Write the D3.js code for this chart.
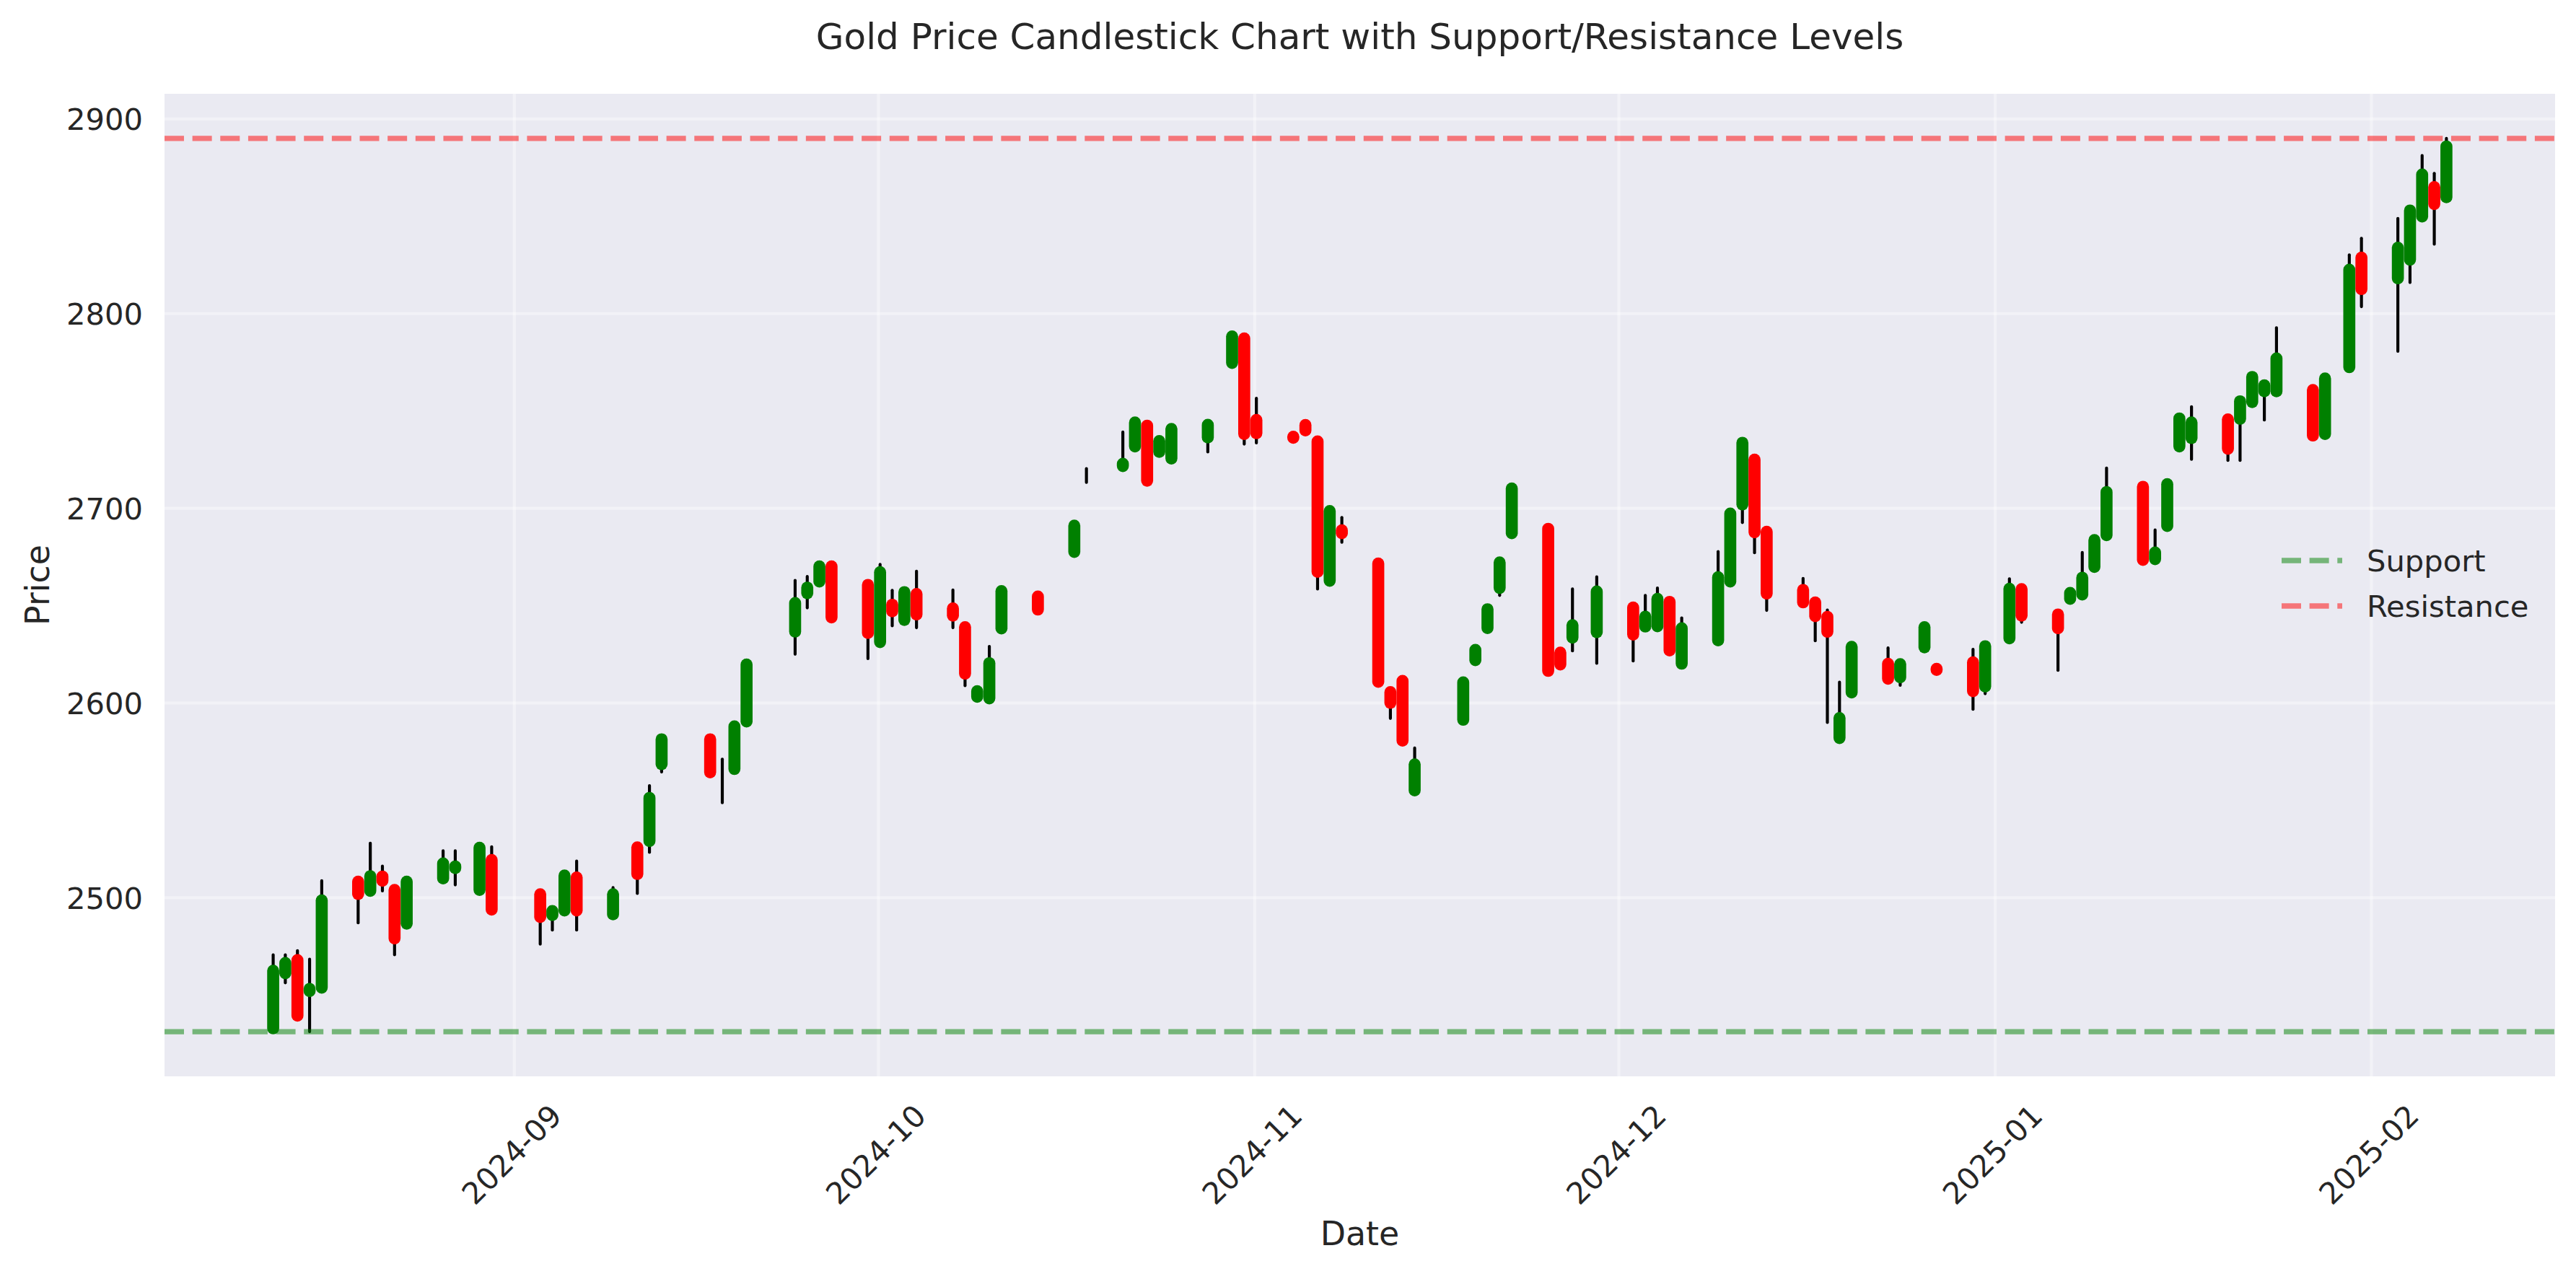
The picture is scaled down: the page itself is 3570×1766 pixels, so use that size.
<!DOCTYPE html>
<html>
<head>
<meta charset="utf-8">
<script src="https://cdn.jsdelivr.net/npm/d3@7"></script>
<style>
  html, body { margin: 0; padding: 0; background: #ffffff; }
  svg { display: block; }
  text { font-family: "DejaVu Sans", sans-serif; fill: #262626; }
</style>
</head>
<body>
<svg id="chart" width="3570" height="1766"></svg>
<script>
// ---------------- DATA ----------------
const dates = [
  "2024-08-12","2024-08-13","2024-08-14","2024-08-15","2024-08-16",
  "2024-08-19","2024-08-20","2024-08-21","2024-08-22","2024-08-23",
  "2024-08-26","2024-08-27","2024-08-29","2024-08-30",
  "2024-09-03","2024-09-04","2024-09-05","2024-09-06",
  "2024-09-09","2024-09-11","2024-09-12","2024-09-13",
  "2024-09-17","2024-09-18","2024-09-19","2024-09-20",
  "2024-09-24","2024-09-25","2024-09-26","2024-09-27",
  "2024-09-30","2024-10-01","2024-10-02","2024-10-03","2024-10-04",
  "2024-10-07","2024-10-08","2024-10-09","2024-10-10","2024-10-11",
  "2024-10-14","2024-10-17","2024-10-18",
  "2024-10-21","2024-10-22","2024-10-23","2024-10-24","2024-10-25",
  "2024-10-28","2024-10-30","2024-10-31","2024-11-01",
  "2024-11-04","2024-11-05","2024-11-06","2024-11-07","2024-11-08",
  "2024-11-11","2024-11-12","2024-11-13","2024-11-14",
  "2024-11-18","2024-11-19","2024-11-20","2024-11-21","2024-11-22",
  "2024-11-25","2024-11-26","2024-11-27","2024-11-29",
  "2024-12-02","2024-12-03","2024-12-04","2024-12-05","2024-12-06",
  "2024-12-09","2024-12-10","2024-12-11","2024-12-12","2024-12-13",
  "2024-12-16","2024-12-17","2024-12-18","2024-12-19","2024-12-20",
  "2024-12-23","2024-12-24","2024-12-26","2024-12-27",
  "2024-12-30","2024-12-31","2025-01-02","2025-01-03",
  "2025-01-06","2025-01-07","2025-01-08","2025-01-09","2025-01-10",
  "2025-01-13","2025-01-14","2025-01-15","2025-01-16","2025-01-17",
  "2025-01-20","2025-01-21","2025-01-22","2025-01-23","2025-01-24",
  "2025-01-27","2025-01-28","2025-01-30","2025-01-31",
  "2025-02-03","2025-02-04","2025-02-05","2025-02-06","2025-02-07"
];
const opens = [
  2432.7,2461.0,2467.8,2451.8,2453.6,
  2508.1,2503.3,2510.7,2503.8,2486.5,
  2509.7,2515.0,2503.8,2519.2,
  2501.6,2490.9,2493.2,2510.2,
  2491.3,2525.7,2528.9,2568.4,
  2581.2,2560.0,2565.9,2590.3,
  2636.5,2656.2,2662.2,2670.0,
  2660.5,2631.1,2650.3,2642.5,2655.8,
  2648.4,2638.8,2603.0,2602.2,2638.1,
  2654.5,2677.4,2716.6,
  2721.5,2731.6,2742.3,2728.8,2725.4,
  2736.2,2774.5,2787.1,2745.2,
  2736.6,2742.6,2734.2,2662.6,2688.5,
  2671.5,2605.4,2611.2,2554.9,
  2591.2,2621.8,2638.3,2658.9,2687.0,
  2689.3,2625.7,2633.4,2636.2,
  2648.9,2639.1,2639.2,2651.8,2620.0,
  2632.0,2662.2,2701.8,2724.8,2687.8,
  2657.9,2651.5,2644.1,2581.8,2605.2,
  2620.0,2613.0,2628.4,2617.4,
  2620.7,2608.3,2633.0,2658.3,
  2645.3,2653.3,2655.5,2669.7,2686.0,
  2710.9,2673.7,2690.7,2731.6,2735.9,
  2745.5,2745.8,2754.4,2759.9,2759.9,
  2760.6,2738.0,2772.3,2828.6,
  2817.9,2827.5,2849.7,2864.8,2859.6
];
const highs = [
  2470.5,2470.5,2472.6,2468.2,2508.5,
  2508.5,2527.8,2516.0,2504.0,2508.3,
  2523.9,2523.9,2525.8,2526.0,
  2502.0,2493.3,2511.4,2518.6,
  2505.0,2526.0,2557.4,2581.5,
  2581.5,2571.0,2588.0,2619.8,
  2662.8,2664.8,2670.2,2670.2,
  2660.8,2671.0,2657.7,2657.0,2667.5,
  2657.9,2639.0,2606.1,2628.9,2657.5,
  2654.7,2691.1,2720.2,
  2739.0,2744.1,2742.5,2734.6,2740.8,
  2742.9,2788.3,2787.3,2756.3,
  2736.8,2742.8,2734.4,2698.6,2695.1,
  2671.7,2605.6,2611.4,2576.7,
  2610.6,2627.3,2648.2,2672.2,2710.2,
  2689.5,2625.9,2658.4,2664.6,
  2649.1,2655.1,2658.9,2652.0,2643.5,
  2677.6,2697.3,2733.7,2725.0,2688.0,
  2663.8,2651.7,2647.6,2610.5,2629.5,
  2628.1,2620.0,2639.0,2617.6,
  2627.4,2629.2,2663.6,2658.5,
  2645.5,2656.6,2677.1,2684.0,2720.5,
  2711.1,2688.7,2712.4,2747.3,2752.0,
  2745.7,2755.0,2767.5,2763.2,2792.6,
  2760.8,2766.7,2830.0,2838.5,
  2848.7,2853.0,2881.0,2871.9,2889.8
];
const lows = [
  2432.5,2456.1,2438.5,2431.0,2453.2,
  2486.9,2503.0,2503.3,2470.5,2486.2,
  2509.5,2506.4,2503.5,2493.5,
  2476.0,2483.2,2493.0,2483.2,
  2491.0,2502.0,2523.1,2564.4,
  2564.0,2548.6,2565.7,2590.1,
  2624.9,2648.7,2662.0,2643.5,
  2622.6,2630.9,2639.5,2642.3,2638.5,
  2638.5,2608.7,2602.8,2602.0,2637.9,
  2647.6,2677.2,2713.1,
  2721.3,2730.0,2713.8,2728.6,2725.2,
  2728.8,2774.3,2732.8,2733.4,
  2735.8,2739.6,2658.4,2662.4,2682.4,
  2610.5,2591.9,2580.3,2554.7,
  2591.0,2621.6,2638.1,2655.1,2686.8,
  2616.1,2619.4,2626.6,2620.2,
  2621.4,2638.5,2639.0,2626.6,2619.8,
  2631.8,2662.0,2692.5,2677.0,2647.4,
  2651.3,2631.8,2589.8,2581.6,2605.0,
  2612.1,2608.9,2628.2,2616.6,
  2596.6,2604.6,2632.8,2641.3,
  2616.6,2653.1,2655.3,2669.5,2685.8,
  2673.1,2673.5,2690.5,2731.4,2725.0,
  2724.4,2724.4,2754.2,2745.2,2759.7,
  2737.0,2737.8,2772.1,2803.4,
  2780.5,2815.8,2849.5,2835.5,2859.4
];
const closes = [
  2462.3,2466.3,2439.2,2453.0,2498.4,
  2501.7,2510.9,2508.5,2478.9,2508.1,
  2517.4,2515.9,2525.5,2493.7,
  2489.9,2493.0,2511.2,2493.2,
  2501.6,2512.0,2551.1,2581.2,
  2564.2,2560.0,2587.8,2619.6,
  2651.2,2659.1,2670.0,2643.8,
  2635.8,2667.0,2646.9,2656.8,2645.3,
  2644.7,2614.9,2605.9,2620.3,2657.3,
  2647.8,2690.9,2716.6,
  2722.7,2743.9,2714.0,2734.4,2740.6,
  2742.7,2788.1,2738.0,2738.4,
  2736.0,2739.8,2667.2,2698.4,2687.0,
  2610.7,2599.9,2580.5,2568.3,
  2610.4,2627.1,2648.0,2672.0,2710.0,
  2616.3,2619.6,2639.8,2657.1,
  2635.0,2644.2,2653.3,2626.8,2638.2,
  2664.4,2697.1,2733.5,2687.5,2656.0,
  2651.5,2644.4,2636.4,2592.1,2628.7,
  2612.3,2619.8,2638.8,2616.8,
  2605.9,2629.0,2658.5,2644.7,
  2638.2,2656.4,2664.2,2683.5,2708.2,
  2673.3,2677.1,2712.2,2746.0,2743.9,
  2730.4,2754.8,2767.3,2763.0,2776.8,
  2737.2,2766.5,2822.4,2812.4,
  2833.7,2852.8,2871.3,2856.1,2885.7
];
const yTickValues = [2500, 2600, 2700, 2800, 2900];
const xTickLabels = ["2024-09", "2024-10", "2024-11", "2024-12", "2025-01", "2025-02"];
const legendLabels = ["Support", "Resistance"];
const titleText = "Gold Price Candlestick Chart with Support/Resistance Levels";

// ---------------- LAYOUT ----------------
const plot = { left: 228, right: 3541, top: 130, bottom: 1492 };
const PT = 300 / 72; // px per point at 300 dpi
const svg = d3.select("#chart");

// dates are New York midnights; convert to UTC (EDT until 2024-11-03, EST after)
const parseDay = d3.utcParse("%Y-%m-%d");
const dstEnd = Date.UTC(2024, 10, 3);
const toInstant = s => { const d = parseDay(s); return new Date(d.getTime() + (d.getTime() < dstEnd ? 4 : 5) * 3600e3); };

const data = dates.map((d, i) => ({ t: toInstant(d), o: opens[i], h: highs[i], l: lows[i], c: closes[i] }));

const t0 = +data[0].t, t1 = +data[data.length - 1].t, tspan = t1 - t0;
const x = d3.scaleUtc()
  .domain([new Date(t0 - 0.05 * tspan), new Date(t1 + 0.05 * tspan)])
  .range([plot.left, plot.right]);

const support = d3.min(lows), resistance = d3.max(highs);
const yspan = resistance - support;
const y = d3.scaleLinear()
  .domain([support - 0.05 * yspan, resistance + 0.05 * yspan])
  .range([plot.bottom, plot.top]);

const xTickDates = xTickLabels.map(s => d3.utcParse("%Y-%m")(s));

// background
svg.append("rect").attr("x", 0).attr("y", 0).attr("width", 3570).attr("height", 1766).attr("fill", "#ffffff");
svg.append("rect")
  .attr("x", plot.left).attr("y", plot.top)
  .attr("width", plot.right - plot.left).attr("height", plot.bottom - plot.top)
  .attr("fill", "#EAEAF2");

// grid
const gridY = svg.append("g").attr("transform", `translate(${plot.left},0)`)
  .call(d3.axisLeft(y).tickValues(yTickValues).tickSize(-(plot.right - plot.left)).tickFormat(""));
const gridX = svg.append("g").attr("transform", `translate(0,${plot.bottom})`)
  .call(d3.axisBottom(x).tickValues(xTickDates).tickSize(-(plot.bottom - plot.top)).tickFormat(""));
[gridY, gridX].forEach(g => {
  g.select(".domain").remove();
  g.selectAll("line").attr("stroke", "#ffffff").attr("stroke-opacity", 0.4).attr("stroke-width", 1 * PT);
});

// candles
const candles = svg.append("g");
candles.selectAll("line.wick").data(data).enter().append("line")
  .attr("class", "wick")
  .attr("x1", d => x(d.t)).attr("x2", d => x(d.t))
  .attr("y1", d => y(d.h)).attr("y2", d => y(d.l))
  .attr("stroke", "#000000").attr("stroke-width", 1 * PT).attr("stroke-linecap", "round");
candles.selectAll("line.body").data(data.filter(d => d.o !== d.c)).enter().append("line")
  .attr("class", "body")
  .attr("x1", d => x(d.t)).attr("x2", d => x(d.t))
  .attr("y1", d => y(d.o)).attr("y2", d => y(d.c))
  .attr("stroke", d => d.c >= d.o ? "#008000" : "#FF0000")
  .attr("stroke-width", 4 * PT).attr("stroke-linecap", "round");

// support / resistance lines
const levelColors = ["#008000", "#FF0000"];
const dashArr = `${3.7 * 1.75 * PT} ${1.6 * 1.75 * PT}`;
[support, resistance].forEach((v, i) => {
  svg.append("line")
    .attr("x1", plot.left).attr("x2", plot.right)
    .attr("y1", y(v)).attr("y2", y(v))
    .attr("stroke", levelColors[i]).attr("stroke-opacity", 0.5)
    .attr("stroke-width", 1.75 * PT).attr("stroke-dasharray", dashArr);
});

// y axis labels
const yAxis = svg.append("g").attr("transform", `translate(${plot.left},0)`)
  .call(d3.axisLeft(y).tickValues(yTickValues).tickSize(0).tickPadding(30).tickFormat(d3.format("d")));
yAxis.select(".domain").remove();
yAxis.selectAll("text")
  .attr("font-family", "DejaVu Sans").attr("font-size", 10 * PT).attr("fill", "#262626")
  .attr("dy", "0.3645em");

// x axis labels
const xAxis = svg.append("g").attr("transform", `translate(0,${plot.bottom})`)
  .call(d3.axisBottom(x).tickValues(xTickDates).tickSize(0).tickFormat(d3.utcFormat("%Y-%m")));
xAxis.select(".domain").remove();
xAxis.selectAll("text")
  .attr("font-family", "DejaVu Sans").attr("font-size", 10 * PT).attr("fill", "#262626")
  .attr("x", 0).attr("y", 0).attr("dy", "0.3645em")
  .attr("text-anchor", "middle")
  .attr("transform", `translate(-4,${1600 - plot.bottom}) rotate(-45)`);

// title and axis titles
svg.append("text").attr("x", (plot.left + plot.right) / 2).attr("y", 68)
  .attr("text-anchor", "middle").attr("font-size", 12 * PT).text(titleText);
svg.append("text").attr("x", (plot.left + plot.right) / 2).attr("y", 1726)
  .attr("text-anchor", "middle").attr("font-size", 11 * PT).text("Date");
svg.append("text").attr("transform", `translate(68,${(plot.top + plot.bottom) / 2}) rotate(-90)`)
  .attr("text-anchor", "middle").attr("font-size", 11 * PT).text("Price");

// legend
const legend = svg.append("g");
const legendY = [777, 840];
legendLabels.forEach((lab, i) => {
  legend.append("line")
    .attr("x1", 3162).attr("x2", 3246).attr("y1", legendY[i]).attr("y2", legendY[i])
    .attr("stroke", levelColors[i]).attr("stroke-opacity", 0.5)
    .attr("stroke-width", 1.75 * PT).attr("stroke-dasharray", dashArr);
  legend.append("text").attr("x", 3280).attr("y", legendY[i] + 15)
    .attr("font-size", 10 * PT).text(lab);
});
</script>
</body>
</html>
